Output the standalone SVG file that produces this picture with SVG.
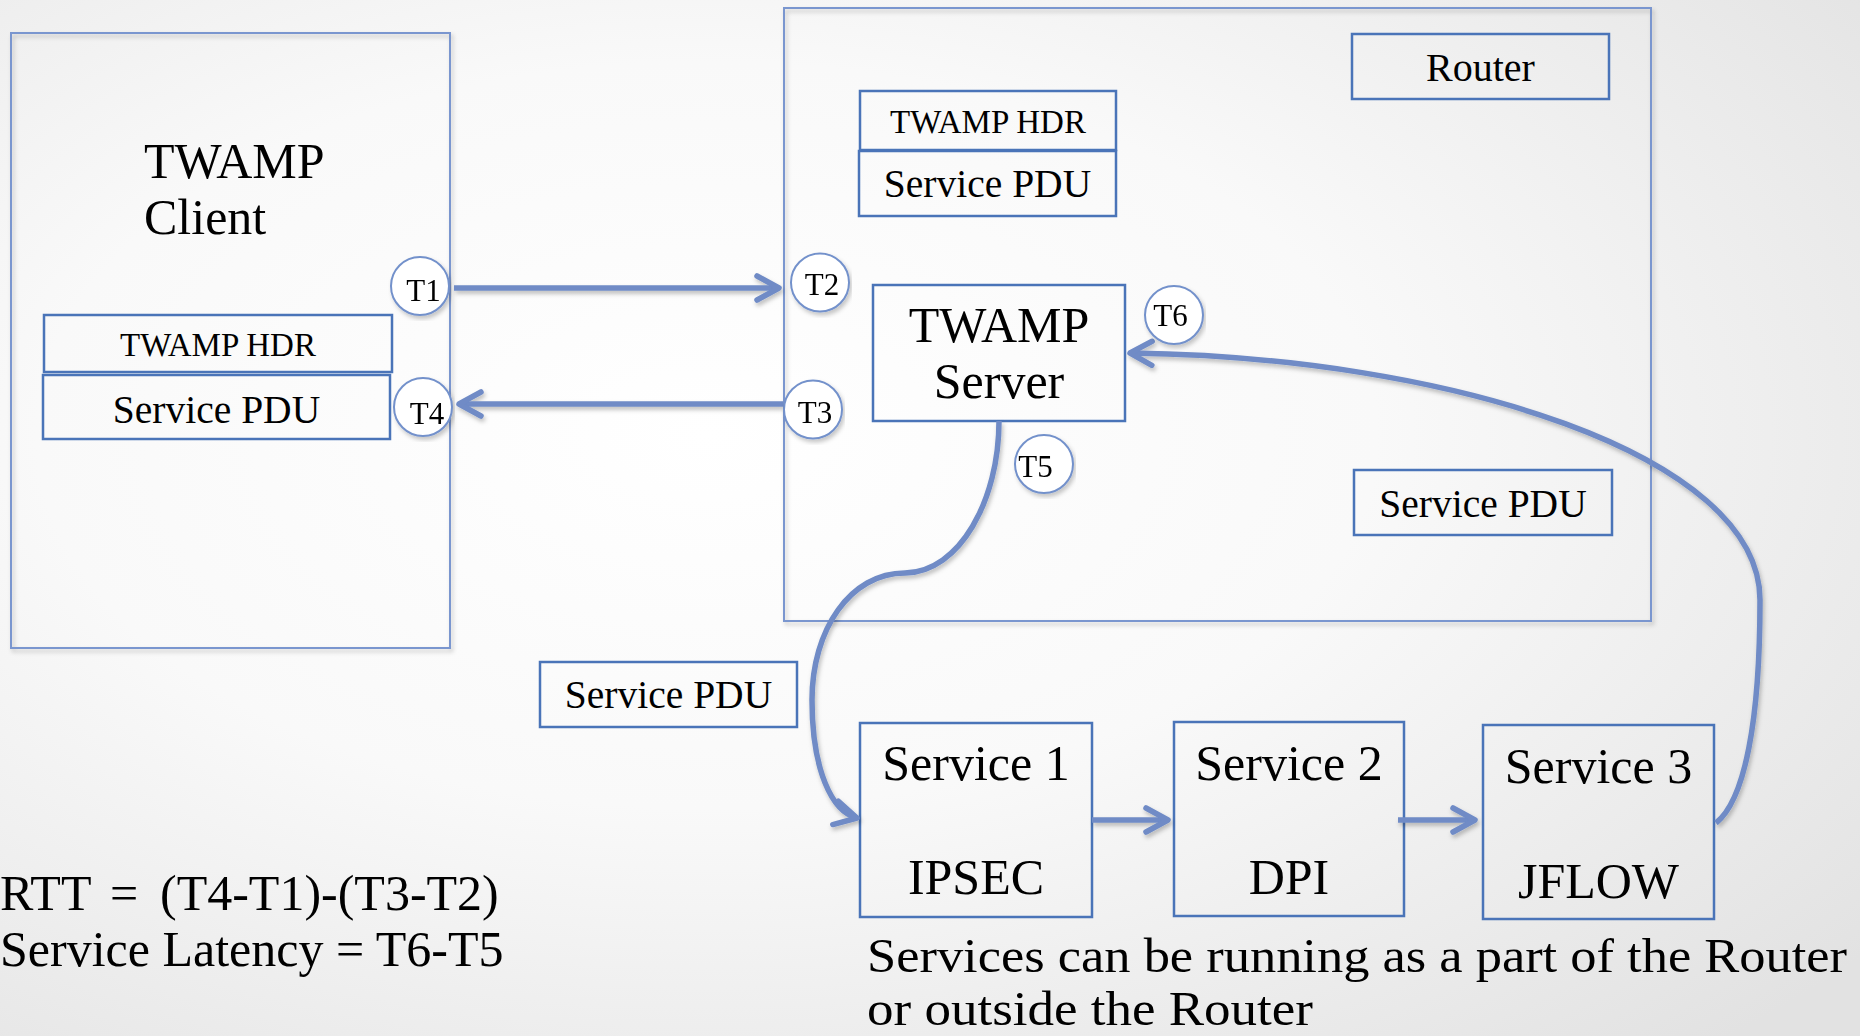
<svg xmlns="http://www.w3.org/2000/svg" width="1860" height="1036" viewBox="0 0 1860 1036">
<defs>
  <radialGradient id="bg" cx="0.38" cy="0.42" r="0.8">
    <stop offset="0" stop-color="#ffffff"/>
    <stop offset="0.45" stop-color="#f9f9f9"/>
    <stop offset="1" stop-color="#e2e2e2"/>
  </radialGradient>
  <filter id="shadow" x="-5%" y="-5%" width="110%" height="115%">
    <feDropShadow dx="2" dy="3" stdDeviation="2" flood-color="#000" flood-opacity="0.22"/>
  </filter>
  <filter id="lshadow" x="-10%" y="-10%" width="120%" height="130%">
    <feDropShadow dx="1.5" dy="3" stdDeviation="2" flood-color="#000" flood-opacity="0.25"/>
  </filter>
  <marker id="arr" markerUnits="userSpaceOnUse" viewBox="-30 -20 40 40" markerWidth="40" markerHeight="40" refX="0" refY="0" orient="auto" overflow="visible">
    <path d="M-22,-12 L0,0 L-22,12" fill="none" stroke="#6f8bc6" stroke-width="5.5" stroke-linecap="round" stroke-linejoin="round"/>
  </marker>
  <style>
    .outer { fill: none; stroke: #7a96cf; stroke-width: 2; }
    .box { fill: none; stroke: #4a74b8; stroke-width: 2.5; }
    .circ { fill: #ffffff; stroke: #7391cb; stroke-width: 2; }
    .conn { fill: none; stroke: #6f8bc6; stroke-width: 5.5; marker-end: url(#arr); }
    text { font-family: "Liberation Serif", "Times New Roman", serif; fill: #000; }
    .big { font-size: 50px; }
    .hdr { font-size: 33px; text-anchor: middle; }
    .pdu { font-size: 39.5px; text-anchor: middle; }
    .svc { font-size: 50px; text-anchor: middle; }
    .t { font-size: 31px; text-anchor: middle; }
    .note { font-size: 48px; }
  </style>
</defs>

<rect x="0" y="0" width="1860" height="1036" fill="url(#bg)"/>

<!-- TWAMP Client -->
<g id="client">
  <rect class="outer" x="11" y="33" width="439" height="615" filter="url(#shadow)"/>
  <text class="big" x="144" y="178">TWAMP</text>
  <text class="big" x="144" y="234">Client</text>
</g>
<g id="client-hdr">
  <rect class="box" x="44" y="315" width="348" height="57"/>
  <text class="hdr" x="218" y="356">TWAMP HDR</text>
</g>
<g id="client-pdu">
  <rect class="box" x="43" y="375" width="347" height="64"/>
  <text class="pdu" x="216.5" y="423">Service PDU</text>
</g>

<!-- Router -->
<g id="router">
  <rect class="outer" x="784" y="8" width="867" height="613" filter="url(#shadow)"/>
</g>
<g id="router-label">
  <rect class="box" x="1352" y="34" width="257" height="65"/>
  <text class="pdu" x="1480.5" y="81" style="font-size:40px">Router</text>
</g>
<g id="server-hdr">
  <rect class="box" x="860" y="91" width="256" height="59"/>
  <text class="hdr" x="988" y="133">TWAMP HDR</text>
</g>
<g id="server-pdu">
  <rect class="box" x="859" y="151" width="257" height="65"/>
  <text class="pdu" x="987.5" y="197">Service PDU</text>
</g>
<g id="twamp-server">
  <rect class="box" x="873" y="285" width="252" height="136"/>
  <text class="big" x="999" y="342" text-anchor="middle">TWAMP</text>
  <text class="big" x="999" y="398" text-anchor="middle">Server</text>
</g>
<g id="router-pdu">
  <rect class="box" x="1354" y="470" width="258" height="65"/>
  <text class="pdu" x="1483" y="517">Service PDU</text>
</g>
<g id="mid-pdu">
  <rect class="box" x="540" y="662" width="257" height="65"/>
  <text class="pdu" x="668.5" y="708">Service PDU</text>
</g>

<!-- Services -->
<g id="service1">
  <rect class="box" x="860" y="723" width="232" height="194"/>
  <text class="svc" x="976" y="780">Service 1</text>
  <text class="svc" x="976" y="894">IPSEC</text>
</g>
<g id="service2">
  <rect class="box" x="1174" y="722" width="230" height="194"/>
  <text class="svc" x="1289" y="780">Service 2</text>
  <text class="svc" x="1289" y="894">DPI</text>
</g>
<g id="service3">
  <rect class="box" x="1483" y="725" width="231" height="194"/>
  <text class="svc" x="1598.5" y="783">Service 3</text>
  <text class="svc" x="1598.5" y="898">JFLOW</text>
</g>

<!-- Connectors -->
<g id="connectors" filter="url(#lshadow)">
  <path class="conn" d="M454,288 L779,288"/>
  <path class="conn" d="M783,404 L459,404"/>
  <path class="conn" d="M999,421 C999,500 960,572 905,573 C850,573 812,630 812,700 C812,770 832,812 857,818"/>
  <path class="conn" d="M1092,820 L1168,820"/>
  <path class="conn" d="M1398,820 L1475,820"/>
  <path class="conn" d="M1716,823 C1745,800 1760,720 1760,600 C1760,455 1450,357 1130,353"/>
</g>

<!-- Timestamps -->
<g id="t1" filter="url(#shadow)">
  <circle class="circ" cx="420" cy="286" r="29"/>
  <text class="t" x="423.5" y="301">T1</text>
</g>
<g id="t2" filter="url(#shadow)">
  <circle class="circ" cx="820" cy="282.5" r="29"/>
  <text class="t" x="822" y="295">T2</text>
</g>
<g id="t3" filter="url(#shadow)">
  <circle class="circ" cx="813" cy="409.5" r="29"/>
  <text class="t" x="815" y="423">T3</text>
</g>
<g id="t4" filter="url(#shadow)">
  <circle class="circ" cx="423" cy="407" r="29"/>
  <text class="t" x="427" y="424">T4</text>
</g>
<g id="t5" filter="url(#shadow)">
  <circle class="circ" cx="1044" cy="464" r="29"/>
  <text class="t" x="1035.5" y="477">T5</text>
</g>
<g id="t6" filter="url(#shadow)">
  <circle class="circ" cx="1174" cy="315" r="29"/>
  <text class="t" x="1170.5" y="326">T6</text>
</g>

<!-- Notes -->
<g id="formulas">
  <text class="big" y="910"><tspan x="0">RTT</tspan><tspan x="110">=</tspan><tspan x="160">(T4-T1)-(T3-T2)</tspan></text>
  <text class="big" x="0" y="966">Service Latency = T6-T5</text>
</g>
<g id="footnote">
  <text class="note" x="867" y="972" textLength="980" lengthAdjust="spacingAndGlyphs">Services can be running as a part of the Router</text>
  <text class="note" x="867" y="1025" textLength="446" lengthAdjust="spacingAndGlyphs">or outside the Router</text>
</g>
</svg>
